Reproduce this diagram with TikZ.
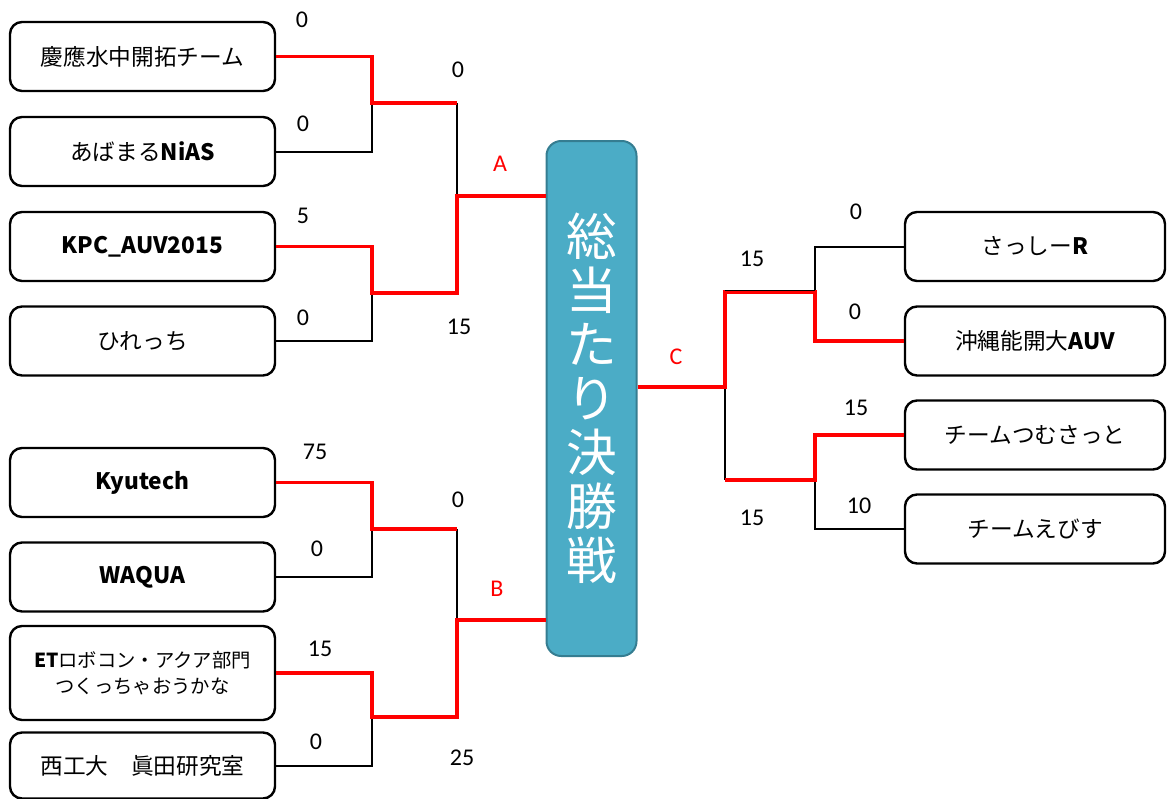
\documentclass[tikz,border=0pt]{standalone}
\usepackage{fontspec}
\setmainfont{Noto Sans CJK JP}
\newfontfamily\numfont{Carlito}
\def\wincolor{red}
\def\losecolor{black}
\definecolor{finalfill}{HTML}{4BACC6}
\definecolor{finaldraw}{HTML}{357D91}
\usetikzlibrary{positioning}

\tikzset{
  team/.style={draw, line width=1.8pt, rounded corners=9pt, minimum width=198.75pt,
    minimum height=51.75pt, align=center, font=\fontsize{17pt}{20pt}\selectfont},
  win/.style={draw=\wincolor, line width=2.6pt},
  lose/.style={draw=\losecolor, line width=1.5pt},
  score/.style={font=\numfont\fontsize{18pt}{20pt}\selectfont},
  pool/.style={score, text=\wincolor}
}

\begin{document}
\begin{tikzpicture}[x=0.75pt, y=-0.75pt]
\useasboundingbox (0,0) rectangle (1167,799);

\node[team] (t1) at (142.5,56.5) {慶應水中開拓チーム};
\node[team] (t2) at (142.5,151.5) {あばまる{\bfseries NiAS}};
\node[team] (t3) at (142.5,246.5) {\bfseries KPC\_AUV2015};
\node[team] (t4) at (142.5,341) {ひれっち};
\node[team] (t5) at (142.5,482.5) {\bfseries Kyutech};
\node[team] (t6) at (142.5,577) {\bfseries WAQUA};
\node[team, minimum height=70.5pt, font=\fontsize{14.5pt}{19pt}\selectfont] (t7) at (142.5,673)
  {{\bfseries ET}ロボコン・アクア部門\\つくっちゃおうかな};
\node[team, minimum height=49.5pt] (t8) at (142.5,765.5) {西工大　眞田研究室};

\node[team, minimum width=195pt] (u1) at (1035,246.5) {さっしー{\bfseries R}};
\node[team, minimum width=195pt] (u2) at (1035,341) {沖縄能開大{\bfseries AUV}};
\node[team, minimum width=195pt] (u3) at (1035,435) {チームつむさっと};
\node[team, minimum width=195pt] (u4) at (1035,529) {チームえびす};

\node[draw=finaldraw, fill=finalfill, line width=1.5pt, rounded corners=11pt,
  minimum width=67.5pt, minimum height=386.25pt, align=center, text=white,
  font=\fontsize{38pt}{40.5pt}\selectfont] (final) at (591.5,398.5)
  {総\\当\\た\\り\\決\\勝\\戦};

\coordinate (q1) at (372,103);
\coordinate (q2) at (372,293);
\coordinate (q3) at (372,529);
\coordinate (q4) at (372,717);
\coordinate (s1) at (457,196);
\coordinate (s2) at (457,620);
\coordinate (c0) at (725,387);
\coordinate (r1) at (815,292);
\coordinate (r2) at (815,480);

\draw[lose] (t2.east) -| (q1);
\draw[lose] (t4.east) -| (q2);
\draw[lose] (q1 -| s1) -- (s1);
\draw[lose] (t6.east) -| (q3);
\draw[lose] (t8.east) -| (q4);
\draw[lose] (q3 -| s2) -- (s2);
\draw[lose] (u1.west) -| (r1);
\draw[lose] (u4.west) -| (r2);
\draw[lose] (c0) -- (c0 |- r2);

\draw[win] (t1.east) -| (q1) -- (q1 -| s1);
\draw[win] (t3.east) -| (q2) -- (q2 -| s1) -- (s1) -- (s1 -| final.west);
\draw[win] (t5.east) -| (q3) -- (q3 -| s2);
\draw[win] (t7.east) -| (q4) -- (q4 -| s2) -- (s2) -- (s2 -| final.west);
\draw[win] (c0 -| final.east) -- (c0) |- (r1) |- (u2.west);
\draw[win] (c0 |- r2) -- (r2) |- (u3.west);
\draw[lose, line width=1pt] ([yshift=1pt]c0 |- r1) -- ([yshift=1pt]r1);

\node[score] (a1) at (302,20) {0};
\node[score] (a2) at (303,124) {0};
\node[score] (a3) at (303,216) {5};
\node[score] (a4) at (303,318) {0};
\node[score] (a5) at (458,70) {0};
\node[score] (a6) at (459,327) {15};
\node[pool] (pa) at (500,164) {A};

\node[score] (b1) at (315,452) {75};
\node[score] (b2) at (317,549) {0};
\node[score] (b3) at (320,649) {15};
\node[score] (b4) at (316,742) {0};
\node[score] (b5) at (458,500) {0};
\node[score] (b6) at (462,758) {25};
\node[pool] (pb) at (497,589) {B};

\node[pool] (pc) at (676,357) {C};
\node[score] (c1) at (752,259) {15};
\node[score] (c2) at (752,518) {15};
\node[score] (c3) at (856,212) {0};
\node[score] (c4) at (855,312) {0};
\node[score] (c5) at (856,408) {15};
\node[score] (c6) at (859,506) {10};
\end{tikzpicture}
\end{document}
